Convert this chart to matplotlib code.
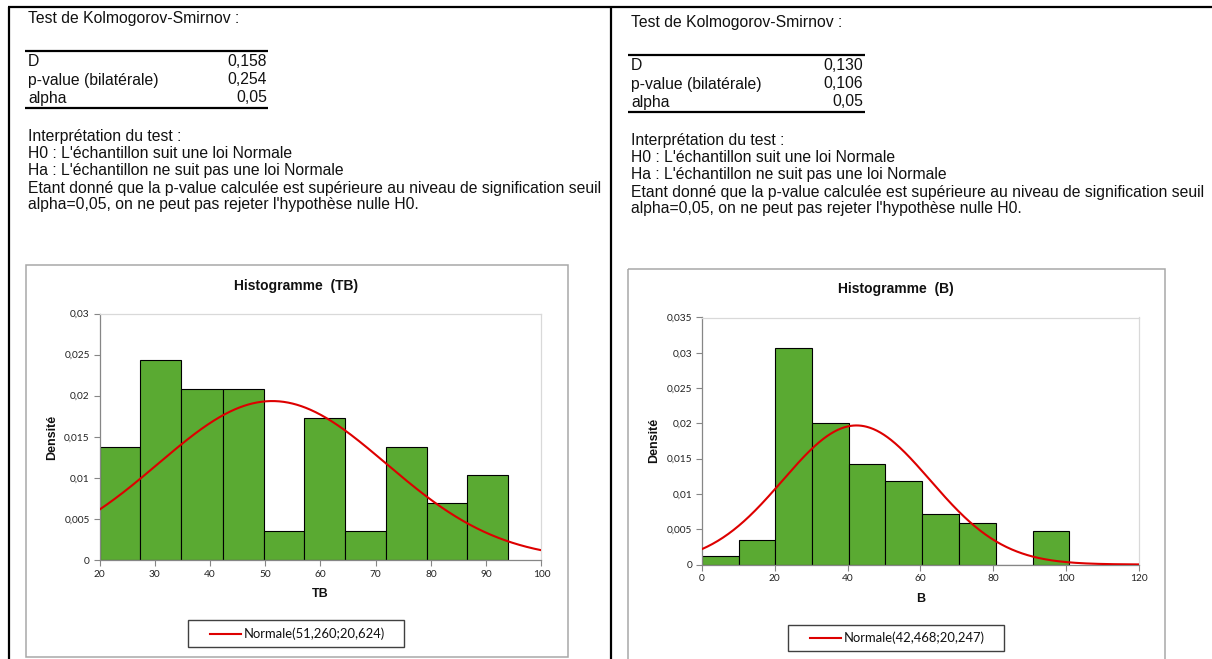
import numpy as np
import matplotlib
matplotlib.use("Agg")
import matplotlib.pyplot as plt
from matplotlib.patches import Rectangle

# ---------------- data ----------------
TB_EDGES = [20.0, 27.4, 34.8, 42.3, 49.7, 57.1, 64.5, 71.9, 79.3, 86.6, 94.0]
TB_DENS = [0.0138, 0.0243, 0.0208, 0.0208, 0.0035, 0.0173, 0.0035, 0.0138, 0.0069, 0.0104]
TB_MU, TB_SIGMA = 51.260, 20.624

B_EDGES = [0.0, 10.1, 20.1, 30.2, 40.3, 50.4, 60.5, 70.7, 80.8, 90.9, 101.0]
B_DENS = [0.0012, 0.0035, 0.0307, 0.0200, 0.0142, 0.0118, 0.0071, 0.0059, 0.0, 0.0047]
B_MU, B_SIGMA = 42.468, 20.247

TB_XTICKS = [20, 30, 40, 50, 60, 70, 80, 90, 100]
TB_YTICKS = [0, 0.005, 0.01, 0.015, 0.02, 0.025, 0.03]
TB_YLABELS = ["0", "0,005", "0,01", "0,015", "0,02", "0,025", "0,03"]
B_XTICKS = [0, 20, 40, 60, 80, 100, 120]
B_YTICKS = [0, 0.005, 0.01, 0.015, 0.02, 0.025, 0.03, 0.035]
B_YLABELS = ["0", "0,005", "0,01", "0,015", "0,02", "0,025", "0,03", "0,035"]

LEFT_STATS = [("D", "0,158"), ("p-value (bilatérale)", "0,254"), ("alpha", "0,05")]
RIGHT_STATS = [("D", "0,130"), ("p-value (bilatérale)", "0,106"), ("alpha", "0,05")]
INTERP = ["Interprétation du test :",
          "H0 : L'échantillon suit une loi Normale",
          "Ha : L'échantillon ne suit pas une loi Normale",
          "Etant donné que la p-value calculée est supérieure au niveau de signification seuil",
          "alpha=0,05, on ne peut pas rejeter l'hypothèse nulle H0."]

# ---------------- style ----------------
W, H = 1212, 659
GREEN = "#5AAA32"
RED = "#DD0000"
TXT = "Liberation Sans"
LEGF = "Lato"
BODY = 11.3

fig = plt.figure(figsize=(W / 100, H / 100), dpi=100)
fig.patch.set_facecolor("white")
ov = fig.add_axes([0, 0, 1, 1])
ov.set_xlim(0, W)
ov.set_ylim(H, 0)
ov.axis("off")

# page frame lines
ov.plot([8, W], [7, 7], color="black", lw=1.6, solid_capstyle="butt")
ov.plot([8.5, 8.5], [7, H], color="black", lw=1.6, solid_capstyle="butt")
ov.plot([611, 611], [7, H], color="black", lw=1.6, solid_capstyle="butt")


def text_block(x0, dy, line_x1, val_x, stats):
    kw = dict(fontsize=BODY, family=TXT, va="center", color="#111111")
    ov.text(x0, 18 + dy, "Test de Kolmogorov-Smirnov :", ha="left", **kw)
    ov.plot([x0 - 3, line_x1], [51 + dy, 51 + dy], color="black", lw=1.6, solid_capstyle="butt")
    rows_y = [61, 80, 98]
    for (k, v), yy in zip(stats, rows_y):
        ov.text(x0, yy + dy, k, ha="left", **kw)
        ov.text(val_x, yy + dy, v, ha="right", **kw)
    ov.plot([x0 - 3, line_x1], [108 + dy, 108 + dy], color="black", lw=1.6, solid_capstyle="butt")
    for i, line in enumerate(INTERP):
        ov.text(x0, 137 + dy + i * 17, line, ha="left", **kw)


text_block(28, 0, 268, 267, LEFT_STATS)
text_block(631, 4, 865, 863, RIGHT_STATS)

# chart boxes
ov.add_patch(Rectangle((25.5, 265), 542, 391.5, fill=False, edgecolor="#A8A8A8", lw=1.1))
ov.add_patch(Rectangle((628, 269), 537, 420, fill=False, edgecolor="#A8A8A8", lw=1.1))


def px_axes(x0, y0, x1, y1):
    return fig.add_axes([x0 / W, 1 - y1 / H, (x1 - x0) / W, (y1 - y0) / H])


def hist_panel(rect, edges, dens, mu, sigma, xlim, xticks, yticks, ylabels,
               title, title_xy, xlab, xlab_xy, ylab_xy, leg_box):
    ax = px_axes(*rect)
    edges = np.asarray(edges)
    ax.bar(edges[:-1], dens, width=np.diff(edges), align="edge", color=GREEN,
           edgecolor="black", linewidth=0.8, zorder=2)
    xs = np.linspace(xlim[0], xlim[1], 500)
    ys = np.exp(-0.5 * ((xs - mu) / sigma) ** 2) / (sigma * np.sqrt(2 * np.pi))
    ax.plot(xs, ys, color=RED, lw=1.5, zorder=3)
    ax.set_xlim(*xlim)
    ax.set_ylim(yticks[0], yticks[-1])
    ax.set_xticks(xticks)
    ax.set_xticklabels([str(t) for t in xticks])
    ax.set_yticks(yticks)
    ax.set_yticklabels(ylabels)
    for lab in ax.get_xticklabels() + ax.get_yticklabels():
        lab.set_family(LEGF)
        lab.set_fontsize(7.3)
        lab.set_color("#222222")
    ax.tick_params(direction="out", length=4, width=0.8, color="#868686", pad=3)
    for s in ["left", "bottom"]:
        ax.spines[s].set_color("#868686")
        ax.spines[s].set_linewidth(0.9)
    for s in ["top", "right"]:
        ax.spines[s].set_color("#D9D9D9")
        ax.spines[s].set_linewidth(0.9)
    ov.text(title_xy[0], title_xy[1], title, fontsize=10, fontweight="bold", family=TXT,
            ha="center", va="center", color="#111111")
    ov.text(xlab_xy[0], xlab_xy[1], xlab, fontsize=9, fontweight="bold", family=TXT,
            ha="center", va="center", color="#111111")
    ov.text(ylab_xy[0], ylab_xy[1], "Densité", fontsize=9, fontweight="bold", family=TXT,
            ha="center", va="center", rotation=90, color="#111111")
    # legend (box, line sample, label)
    lx0, ly0, lx1, ly1 = leg_box
    ov.add_patch(Rectangle((lx0, ly0), lx1 - lx0, ly1 - ly0, facecolor="white",
                           edgecolor="#404040", lw=1.0))
    ym = (ly0 + ly1) / 2
    ov.plot([lx0 + 22, lx0 + 53], [ym, ym], color=RED, lw=1.5)
    label = "Normale(%s;%s)" % (f"{mu:.3f}".replace(".", ","), f"{sigma:.3f}".replace(".", ","))
    ov.text(lx0 + 56, ym, label, family=LEGF, fontsize=9.4, ha="left", va="center",
            color="#111111")
    return ax


hist_panel((99.5, 313.5, 541.5, 560), TB_EDGES, TB_DENS, TB_MU, TB_SIGMA, (20, 100),
           TB_XTICKS, TB_YTICKS, TB_YLABELS, "Histogramme  (TB)", (296, 286),
           "TB", (320, 594), (52, 437), (188, 620, 404, 647))
hist_panel((702, 317.5, 1138.5, 564.5), B_EDGES, B_DENS, B_MU, B_SIGMA, (0, 120),
           B_XTICKS, B_YTICKS, B_YLABELS, "Histogramme  (B)", (896, 289),
           "B", (921, 599), (654, 440), (788, 625, 1004, 651))

fig.savefig("out.png", dpi=100, facecolor="white")
